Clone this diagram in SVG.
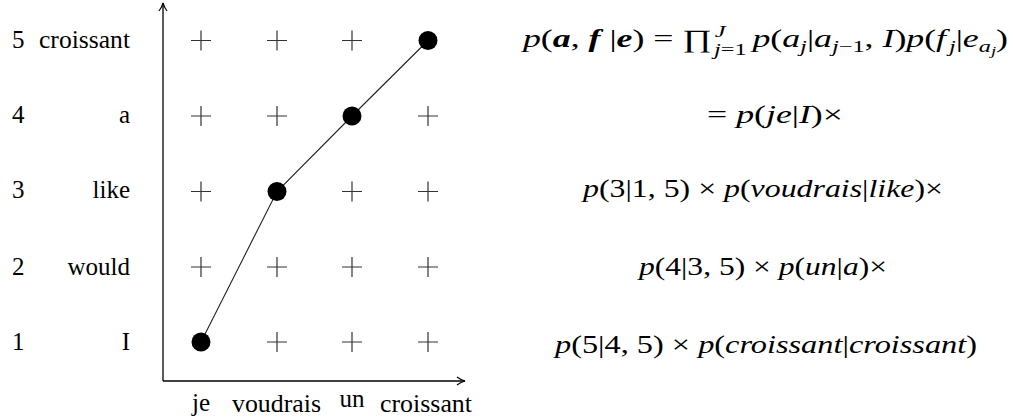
<svg xmlns="http://www.w3.org/2000/svg" width="1013" height="418" viewBox="0 0 1013 418">
<defs>
<marker id="arr" viewBox="0 0 10 10" refX="9" refY="5" markerWidth="10" markerHeight="10" markerUnits="userSpaceOnUse" orient="auto">
<path d="M1,1 Q5,4 9,5 Q5,6 1,9" fill="none" stroke="#000" stroke-width="1.2"/>
</marker>
</defs>
<rect width="1013" height="418" fill="#fff"/>

<g id="axes" stroke="#000" stroke-width="1.3" fill="none">
<path d="M163,381 V3" marker-end="url(#arr)"/>
<path d="M163,381 H465" marker-end="url(#arr)"/>
</g>

<g id="row-labels">
<text style="font-family:'Liberation Serif',serif" font-family="Liberation Serif" font-size="25" x="12" y="48">5</text><text style="font-family:'Liberation Serif',serif" font-family="Liberation Serif" font-size="25" x="130" y="48" text-anchor="end" textLength="91" lengthAdjust="spacingAndGlyphs">croissant</text>
<text style="font-family:'Liberation Serif',serif" font-family="Liberation Serif" font-size="25" x="12" y="123">4</text><text style="font-family:'Liberation Serif',serif" font-family="Liberation Serif" font-size="25" x="130" y="123" text-anchor="end">a</text>
<text style="font-family:'Liberation Serif',serif" font-family="Liberation Serif" font-size="25" x="12" y="198">3</text><text style="font-family:'Liberation Serif',serif" font-family="Liberation Serif" font-size="25" x="130" y="198" text-anchor="end">like</text>
<text style="font-family:'Liberation Serif',serif" font-family="Liberation Serif" font-size="25" x="12" y="275">2</text><text style="font-family:'Liberation Serif',serif" font-family="Liberation Serif" font-size="25" x="130" y="275" text-anchor="end">would</text>
<text style="font-family:'Liberation Serif',serif" font-family="Liberation Serif" font-size="25" x="12" y="350">1</text><text style="font-family:'Liberation Serif',serif" font-family="Liberation Serif" font-size="25" x="130" y="350" text-anchor="end">I</text>
</g>

<g id="col-labels">
<text style="font-family:'Liberation Serif',serif" font-family="Liberation Serif" font-size="25" x="201" y="411" text-anchor="middle">je</text>
<text style="font-family:'Liberation Serif',serif" font-family="Liberation Serif" font-size="25" x="276.5" y="412" text-anchor="middle" textLength="89" lengthAdjust="spacingAndGlyphs">voudrais</text>
<text style="font-family:'Liberation Serif',serif" font-family="Liberation Serif" font-size="25" x="352" y="407" text-anchor="middle">un</text>
<text style="font-family:'Liberation Serif',serif" font-family="Liberation Serif" font-size="25" x="426" y="412" text-anchor="middle" textLength="92" lengthAdjust="spacingAndGlyphs">croissant</text>
</g>

<g id="grid" stroke="#333" stroke-width="1.2" fill="none">
<path d="M191,40.5h20M201,30.5v20M267,40.5h20M277,30.5v20M342,40.5h20M352,30.5v20"/>
<path d="M191,116h20M201,106v20M267,116h20M277,106v20M418,116h20M428,106v20"/>
<path d="M191,191.5h20M201,181.5v20M342,191.5h20M352,181.5v20M418,191.5h20M428,181.5v20"/>
<path d="M191,267h20M201,257v20M267,267h20M277,257v20M342,267h20M352,257v20M418,267h20M428,257v20"/>
<path d="M267,342h20M277,332v20M342,342h20M352,332v20M418,342h20M428,332v20"/>
</g>

<g id="connectors">
<path d="M201,342 L277,191.5 L352,116 L428,40.5" stroke="#222" stroke-width="1.1" fill="none"/>
</g>

<g id="n1"><circle fill="#000" cx="201" cy="342" r="9.5"/></g>
<g id="n2"><circle fill="#000" cx="277" cy="191.5" r="9.5"/></g>
<g id="n3"><circle fill="#000" cx="352" cy="116" r="9.5"/></g>
<g id="n4"><circle fill="#000" cx="428" cy="40.5" r="9.5"/></g>

<g id="formula">
<text style="font-family:'Liberation Serif',serif" font-family="Liberation Serif" font-size="25" x="523" y="47" textLength="485" lengthAdjust="spacingAndGlyphs"><tspan font-style="italic">p</tspan>(<tspan font-style="italic" font-weight="bold">a</tspan>, <tspan font-style="italic" font-weight="bold">f</tspan> |<tspan font-style="italic" font-weight="bold">e</tspan>) = ∏<tspan font-size="17" font-style="italic" dx="2" dy="-10">J</tspan><tspan font-size="17" font-style="italic" dx="-8" dy="18">j</tspan><tspan font-size="17">=1</tspan><tspan font-style="italic" dx="4" dy="-8">p</tspan>(<tspan font-style="italic">a</tspan><tspan font-size="17" font-style="italic" dy="5">j</tspan><tspan dy="-5">|</tspan><tspan font-style="italic">a</tspan><tspan font-size="17" dy="5"><tspan font-style="italic">j</tspan>−1</tspan><tspan dy="-5">, </tspan><tspan font-style="italic">I</tspan>)<tspan font-style="italic">p</tspan>(<tspan font-style="italic">f</tspan><tspan font-size="17" font-style="italic" dx="2" dy="5">j</tspan><tspan dy="-5">|</tspan><tspan font-style="italic">e</tspan><tspan font-size="17" font-style="italic" dy="5">a</tspan><tspan font-size="13" font-style="italic" dy="3">j</tspan><tspan dy="-8">)</tspan></text>
<text style="font-family:'Liberation Serif',serif" font-family="Liberation Serif" font-size="25" x="707" y="123" textLength="136" lengthAdjust="spacingAndGlyphs">= <tspan font-style="italic">p</tspan>(<tspan font-style="italic">je</tspan>|<tspan font-style="italic">I</tspan>)×</text>
<text style="font-family:'Liberation Serif',serif" font-family="Liberation Serif" font-size="25" x="583" y="197" textLength="360" lengthAdjust="spacingAndGlyphs"><tspan font-style="italic">p</tspan>(3|1, 5) × <tspan font-style="italic">p</tspan>(<tspan font-style="italic">voudrais</tspan>|<tspan font-style="italic">like</tspan>)×</text>
<text style="font-family:'Liberation Serif',serif" font-family="Liberation Serif" font-size="25" x="639" y="275" textLength="248" lengthAdjust="spacingAndGlyphs"><tspan font-style="italic">p</tspan>(4|3, 5) × <tspan font-style="italic">p</tspan>(<tspan font-style="italic">un</tspan>|<tspan font-style="italic">a</tspan>)×</text>
<text style="font-family:'Liberation Serif',serif" font-family="Liberation Serif" font-size="25" x="555" y="353" textLength="422" lengthAdjust="spacingAndGlyphs"><tspan font-style="italic">p</tspan>(5|4, 5) × <tspan font-style="italic">p</tspan>(<tspan font-style="italic">croissant</tspan>|<tspan font-style="italic">croissant</tspan>)</text>
</g>
</svg>
